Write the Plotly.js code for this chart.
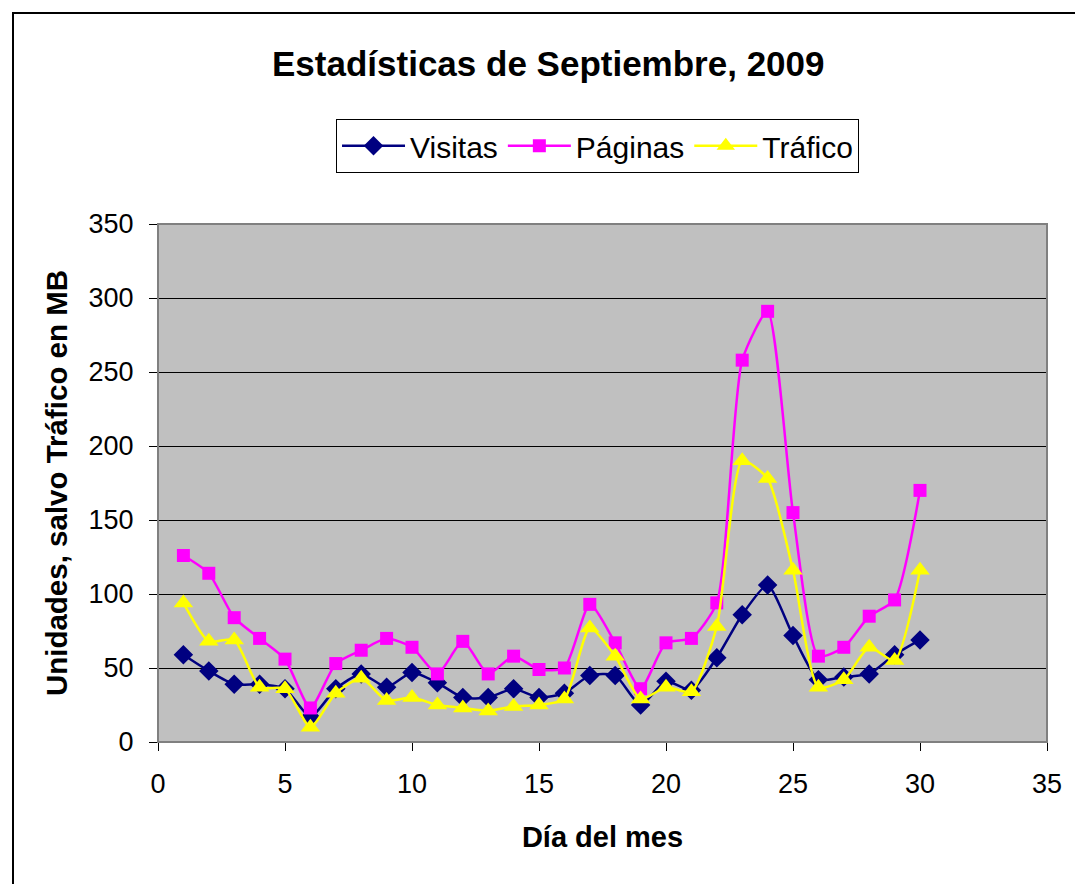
<!DOCTYPE html>
<html>
<head>
<meta charset="utf-8">
<script src="https://cdn.plot.ly/plotly-3.0.1.min.js"></script>
<style>
html,body{margin:0;padding:0;background:#fff;overflow:hidden;}
#wrap{position:relative;width:1075px;height:884px;}
#chart{width:1075px;height:884px;}
#frame{position:absolute;left:12px;top:12px;width:1100px;height:900px;border:2px solid #000;pointer-events:none;}
</style>
</head>
<body>
<div id="wrap"><div id="chart"></div><div id="frame"></div></div>
<script>
const dias = [1,2,3,4,5,6,7,8,9,10,11,12,13,14,15,16,17,18,19,20,21,22,23,24,25,26,27,28,29,30];
const visitas = [59,48,39,39,36,17,36,46,37,47,40,30,30,36,30,33,45,45,25,41,35,57,86,106,72,42,44,46,59,69];
const paginas = [126,114,84,70,56,23,53,62,70,64,46,68,46,58,49,50,93,67,36,67,70,94,258,291,155,58,64,85,96,170];
const trafico = [94,68,69,37,36,10,33,43,28,30,25,23,21,24,25,29,77,58,29,37,34,78,190,178,116,37,42,64,55,116];
const xTicks = [0,5,10,15,20,25,30,35];
const yTicks = [0,50,100,150,200,250,300,350];

const font = 'Arial, "Liberation Sans", sans-serif';
const traces = [
  {x: dias, y: visitas, name: 'Visitas', mode: 'lines+markers', type: 'scatter',
   line: {color: '#000080', width: 2.5, shape: 'spline', smoothing: 0.6},
   marker: {symbol: 'diamond', size: 15, color: '#000080'}},
  {x: dias, y: paginas, name: 'Páginas', mode: 'lines+markers', type: 'scatter',
   line: {color: '#FF00FF', width: 2.5, shape: 'spline', smoothing: 0.6},
   marker: {symbol: 'square', size: 13, color: '#FF00FF'}},
  {x: dias, y: trafico, name: 'Tráfico', mode: 'lines+markers', type: 'scatter',
   line: {color: '#FFFF00', width: 2.5, shape: 'spline', smoothing: 0.6},
   marker: {symbol: 'triangle-up', size: 17, color: '#FFFF00'}}
];

const layout = {
  width: 1075, height: 884,
  margin: {l: 158, r: 28, t: 224, b: 142},
  paper_bgcolor: '#ffffff',
  plot_bgcolor: '#C0C0C0',
  font: {family: font, color: '#000'},
  showlegend: true,
  title: {text: '<b>Estadísticas de Septiembre, 2009</b>', font: {family: font, size: 35, color: '#000'},
          x: 0.51, xanchor: 'center', y: 0.928, yanchor: 'middle'},
  legend: {orientation: 'h', x: 0.4944, xanchor: 'center', y: 1.203, yanchor: 'top',
           bgcolor: '#ffffff', bordercolor: '#000', borderwidth: 1,
           font: {family: font, size: 30, color: '#000'}, itemwidth: 63, tracegroupgap: 0},
  xaxis: {range: [0, 35], tickvals: xTicks, ticks: 'outside', ticklen: 8,
          tickcolor: '#000', showgrid: false, zeroline: false, showline: true, linecolor: '#000', linewidth: 1,
          tickfont: {family: font, size: 27, color: '#000'}, ticklabelstandoff: 10,
          title: {text: '<b>Día del mes</b>', font: {family: font, size: 29, color: '#000'}, standoff: 28}},
  yaxis: {range: [0, 350], tickvals: yTicks, ticks: 'outside', ticklen: 8,
          tickcolor: '#000', showgrid: true, gridcolor: '#000', gridwidth: 1, zeroline: false,
          showline: true, linecolor: '#000', linewidth: 1,
          tickfont: {family: font, size: 27, color: '#000'}, ticklabelstandoff: 10,
          title: {text: '<b>Unidades, salvo Tráfico en MB</b>', font: {family: font, size: 29.5, color: '#000'}, standoff: 12}},
  shapes: [
    {type: 'rect', xref: 'paper', yref: 'paper', x0: 0, x1: 1, y0: 0, y1: 1,
     line: {color: '#808080', width: 2}, fillcolor: 'rgba(0,0,0,0)', layer: 'above'}
  ]
};

Plotly.newPlot('chart', traces, layout, {displayModeBar: false, responsive: false});
</script>
</body>
</html>
